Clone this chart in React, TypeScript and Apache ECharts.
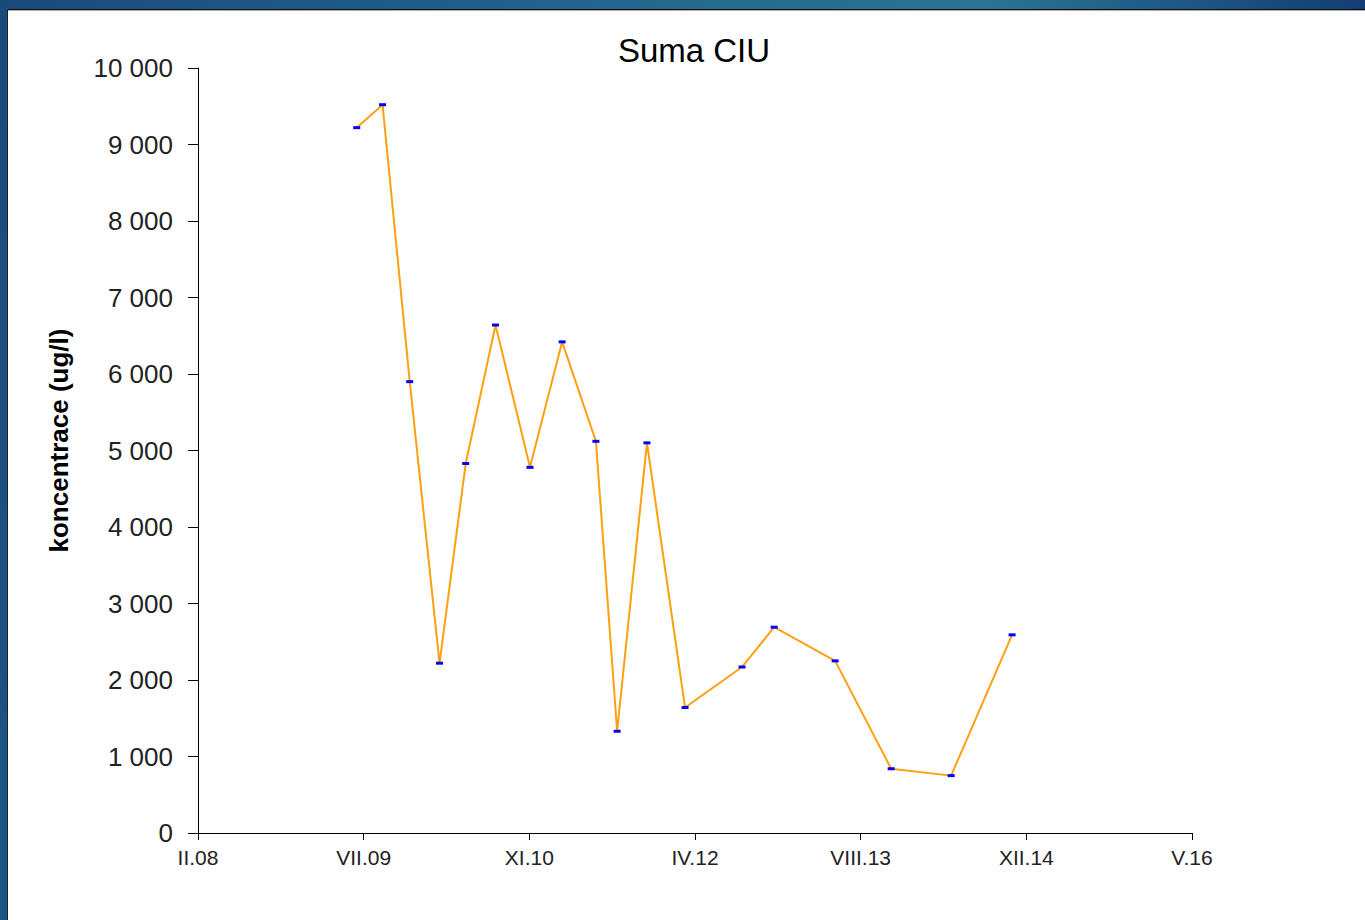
import React, { useEffect, useRef } from "react";
import * as echarts from "echarts";

const chartTitle = "Suma CIU";
const yAxisName = "koncentrace (ug/l)";
const sampleDates = [
  "2009-06-15", "2009-09-01", "2009-11-22", "2010-02-20", "2010-05-10", "2010-08-08",
  "2010-11-20", "2011-02-25", "2011-06-07", "2011-08-10", "2011-11-08", "2012-03-02",
  "2012-08-21", "2012-11-26", "2013-05-29", "2013-11-14", "2014-05-14", "2014-11-14",
];
const sumaCIU = [
  9220, 9520, 5900, 2220, 4830, 6640,
  4780, 6420, 5120, 1330, 5100, 1640,
  2170, 2690, 2250, 840, 750, 2590,
];
// x axis in Excel serial days: II.08 .. V.16, step 500 days
const xMinSerial = 39500;
const xMaxSerial = 42500;
const xStepDays = 500;
const romanMonths = ["I", "II", "III", "IV", "V", "VI", "VII", "VIII", "IX", "X", "XI", "XII"];

const toSerial = (iso: string) => {
  const [y, m, d] = iso.split("-").map(Number);
  return Date.UTC(y, m - 1, d) / 86400000 + 25569;
};
const serialLabel = (s: number) => {
  const dt = new Date((s - 25569) * 86400000);
  return romanMonths[dt.getUTCMonth()] + "." + String(dt.getUTCFullYear() % 100).padStart(2, "0");
};
const fmtThousands = (v: number) => String(v).replace(/\B(?=(\d{3})+(?!\d))/g, " ");

export default function App() {
  const ref = useRef<HTMLDivElement>(null);
  useEffect(() => {
    if (!ref.current) return;
    const chart = echarts.init(ref.current, undefined, { renderer: "svg" });
    const font = "'Liberation Sans', Arial, sans-serif";
    chart.setOption({
      animation: false,
      backgroundColor: "#ffffff",
      textStyle: { fontFamily: font },
      graphic: [
        {
          type: "rect",
          shape: { x: 0, y: 0, width: 1365, height: 9 },
          style: {
            fill: new echarts.graphic.LinearGradient(0, 0, 1, 0, [
              { offset: 0, color: "#1a4a7c" },
              { offset: 0.35, color: "#20608a" },
              { offset: 0.72, color: "#2a7595" },
              { offset: 1, color: "#133d74" },
            ]),
          },
          silent: true,
        },
        { type: "rect", shape: { x: 0, y: 9, width: 1365, height: 1 }, style: { fill: "#111" }, silent: true },
        { type: "rect", shape: { x: 0, y: 10, width: 1365, height: 1 }, style: { fill: "#b0b0b0" }, silent: true },
        {
          type: "rect",
          shape: { x: 0, y: 0, width: 7, height: 920 },
          style: {
            fill: new echarts.graphic.LinearGradient(0, 0, 0, 1, [
              { offset: 0, color: "#1a4a7c" },
              { offset: 1, color: "#1d5587" },
            ]),
          },
          silent: true,
        },
        { type: "rect", shape: { x: 7, y: 9, width: 1, height: 911 }, style: { fill: "#222" }, silent: true },
      ],
      title: {
        text: chartTitle,
        left: 689,
        top: 29,
        textAlign: "center",
        textStyle: { fontFamily: font, fontSize: 33, fontWeight: "normal", color: "#000" },
      },
      grid: { left: 198, top: 68, width: 994, height: 765, containLabel: false },
      xAxis: {
        type: "value",
        min: xMinSerial,
        max: xMaxSerial,
        interval: xStepDays,
        axisLine: { lineStyle: { color: "#000", width: 1 } },
        axisTick: { show: true, length: 7, lineStyle: { color: "#000" } },
        axisLabel: {
          fontFamily: font,
          fontSize: 21,
          color: "#222",
          margin: 14,
          formatter: (v: number) => serialLabel(v),
        },
        splitLine: { show: false },
      },
      yAxis: {
        type: "value",
        min: 0,
        max: 10000,
        interval: 1000,
        name: yAxisName,
        nameLocation: "middle",
        nameGap: 126,
        nameTextStyle: {
          fontFamily: font,
          fontSize: 26,
          fontWeight: "bold",
          color: "#000",
          padding: [0, 0, 0, 20],
        },
        axisLine: { show: true, lineStyle: { color: "#000", width: 1 } },
        axisTick: { show: true, length: 10, lineStyle: { color: "#000" } },
        axisLabel: {
          fontFamily: font,
          fontSize: 26,
          color: "#222",
          margin: 25,
          formatter: (v: number) => fmtThousands(v),
        },
        splitLine: { show: false },
      },
      series: [
        {
          type: "line",
          name: chartTitle,
          data: sampleDates.map((d, i) => [toSerial(d), sumaCIU[i]]),
          lineStyle: { color: "#ffa010", width: 2 },
          itemStyle: { color: "#0000ff" },
          symbol: "rect",
          symbolSize: [7, 3],
          showSymbol: true,
          z: 3,
        },
      ],
    });
    return () => chart.dispose();
  }, []);
  return (
    <div
      ref={ref}
      style={{ position: "absolute", left: 0, top: 0, width: 1365, height: 920 }}
    />
  );
}
